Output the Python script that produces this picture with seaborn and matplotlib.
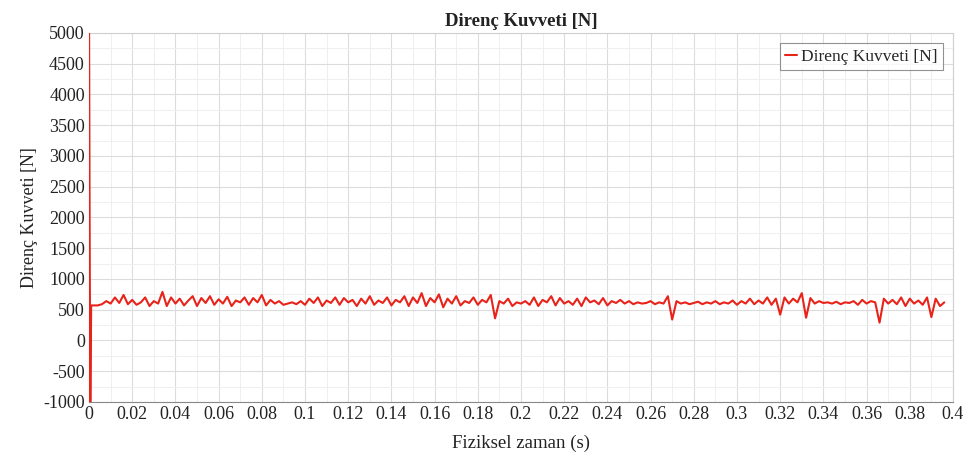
import matplotlib
matplotlib.use("Agg")
import matplotlib.pyplot as plt
import numpy as np
import pandas as pd
import seaborn as sns
from matplotlib.ticker import MultipleLocator

# start-up spike (time in s, force in N)
spike_t = [0.0, 0.0003, 0.0006, 0.001, 0.004]
spike_f = [5300, 1700, -1100, 570, 570]

# steady part, sampled every 0.002 s starting at 0.006 s
t0 = 0.006
dt = 0.002
force = [
    590, 640, 600, 700, 610, 740, 590, 660, 580, 620,
    700, 560, 640, 600, 790, 560, 700, 600, 680, 570,
    650, 720, 560, 690, 610, 720, 580, 670, 600, 710,
    560, 650, 620, 700, 580, 690, 620, 740, 570, 660,
    600, 640, 580, 600, 620, 590, 640, 580, 680, 610,
    700, 560, 650, 610, 700, 580, 690, 620, 660, 560,
    680, 600, 720, 580, 650, 610, 700, 570, 660, 620,
    720, 560, 700, 610, 770, 560, 690, 620, 750, 540,
    680, 600, 720, 570, 640, 610, 700, 580, 660, 620,
    740, 360, 640, 600, 680, 560, 620, 600, 640, 580,
    700, 560, 660, 620, 720, 570, 690, 600, 640, 580,
    680, 560, 700, 620, 650, 590, 690, 570, 640, 610,
    660, 600, 640, 590, 620, 600, 610, 640, 590, 620,
    600, 720, 340, 640, 600, 620, 590, 610, 630, 590,
    620, 600, 640, 590, 620, 600, 650, 580, 640, 600,
    680, 590, 650, 600, 700, 580, 680, 420, 700, 600,
    680, 620, 770, 370, 690, 600, 640, 610, 620, 600,
    630, 590, 620, 610, 640, 580, 660, 600, 640, 620,
    290, 680, 600, 660, 590, 700, 560, 680, 600, 650,
    580, 700, 380, 680, 560, 620,
]

label = "Direnç Kuvveti [N]"

steady_t = [round(t0 + i * dt, 4) for i in range(len(force))]
df = pd.DataFrame({"t": spike_t + steady_t, "f": spike_f + force})

sns.set_style("white")
plt.rcParams["font.family"] = ["Liberation Serif", "DejaVu Serif"]
plt.rcParams["axes.unicode_minus"] = False

fig = plt.figure(figsize=(9.76, 4.57), dpi=100)
ax = fig.add_axes([0.0912, 0.1204, 0.8852, 0.8074])

sns.lineplot(data=df, x="t", y="f", estimator=None, sort=False,
             color="#e8231a", linewidth=1.5, label=label, ax=ax, zorder=3)

ax.set_xlim(0, 0.4)
ax.set_ylim(-1000, 5000)
ax.xaxis.set_major_locator(MultipleLocator(0.02))
ax.xaxis.set_minor_locator(MultipleLocator(0.01))
ax.yaxis.set_major_locator(MultipleLocator(500))
ax.yaxis.set_minor_locator(MultipleLocator(250))
ax.set_xticklabels([f"{v:g}" for v in ax.get_xticks()])
ax.grid(True, which="major", color="#dcdcdc", linewidth=0.8)
ax.grid(True, which="minor", color="#efefef", linewidth=0.7)
ax.set_axisbelow(True)

ax.tick_params(axis="both", which="major", labelsize=13, colors="#222222",
               length=2, pad=1)
ax.tick_params(axis="both", which="minor", length=0)
for s in ["left", "bottom"]:
    ax.spines[s].set_color("#888888")
for s in ["top", "right"]:
    ax.spines[s].set_color("#d0d0d0")

ax.set_title(label, fontsize=13.5, fontweight="bold", color="#222222", pad=5)
ax.set_xlabel("Fiziksel zaman (s)", fontsize=13.5, color="#222222", labelpad=8)
ax.set_ylabel(label, fontsize=13, color="#222222", labelpad=4)

leg = ax.legend(loc="upper right", fontsize=12.5, handlelength=0.7,
                handletextpad=0.2, fancybox=False, frameon=True,
                borderpad=0.3, borderaxespad=0.6)
leg.get_frame().set_edgecolor("#777777")
leg.get_frame().set_linewidth(0.8)

fig.savefig("out.png", dpi=100)
